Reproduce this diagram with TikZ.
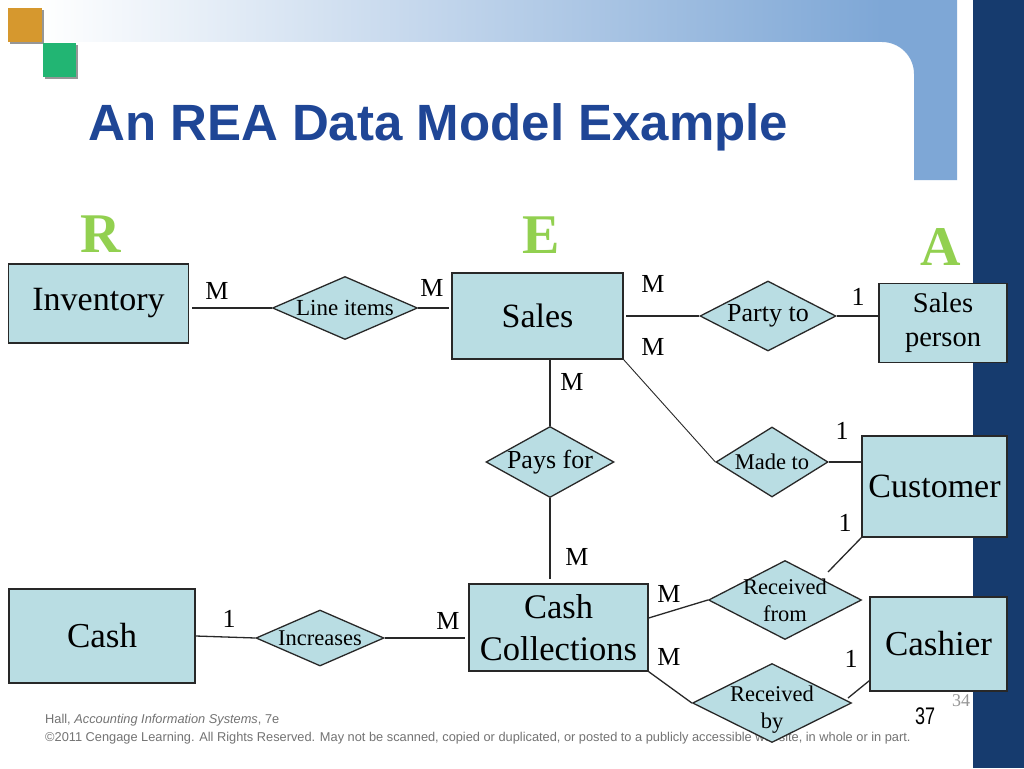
\documentclass[tikz,border=0pt]{standalone}
\usepackage{fontspec}
\setmainfont{Liberation Serif}
\newfontfamily\sansf{Liberation Sans}
\usetikzlibrary{shapes.geometric,calc}
\definecolor{boxfill}{RGB}{185,221,227}
\definecolor{edgec}{RGB}{40,40,40}
\definecolor{navy}{RGB}{22,59,110}
\definecolor{band}{RGB}{126,167,214}
\definecolor{titleblue}{RGB}{31,70,150}
\definecolor{reagreen}{RGB}{146,208,80}
\definecolor{sqorange}{RGB}{214,152,46}
\definecolor{sqgreen}{RGB}{34,181,115}
\definecolor{sqshadow}{RGB}{150,150,150}
\definecolor{footgray}{RGB}{115,115,115}
\definecolor{pagegray}{RGB}{150,150,150}
\begin{document}
\begin{tikzpicture}[x=1pt,y=-1pt,
  ent/.style={rectangle, draw=edgec, line width=1.3pt, fill=boxfill, inner sep=0pt, align=center, font=\fontsize{34}{40}\selectfont},
  rel/.style={diamond, draw=edgec, line width=1.3pt, fill=boxfill, inner sep=0pt, label={[relt]center:#1}},
  relt/.style={align=center, inner sep=0pt, font=\fontsize{22.5}{27}\selectfont},
  card/.style={inner sep=0pt, font=\fontsize{26}{30}\selectfont},
  conn/.style={draw=edgec, line width=1.3pt},
  rea/.style={inner sep=0pt, anchor=base, text=reagreen, font=\fontsize{56}{60}\selectfont\bfseries},
  foot/.style={anchor=base west, inner sep=0pt, text=footgray, font=\sansf\fontsize{12.8}{15}\selectfont}]
\useasboundingbox (0,0) rectangle (1024,768);
\fill[white] (0,0) rectangle (1024,768);
% background decoration
\shade[left color=white, right color=band] (40,0) rectangle (882,42);
\fill[band] (882,0) -- (957,0) -- (957,180) -- (914,180) -- (914,74) arc[start angle=0, end angle=-90, radius=32] -- cycle;
\fill[navy] (973,0) rectangle (1024,768);
\fill[sqshadow] (10,10) rectangle (44,44);
\fill[sqorange] (8,8) rectangle (42,42);
\fill[sqshadow] (45,45) rectangle (78,79);
\fill[sqgreen] (43,43) rectangle (76,77);
% title
\node[anchor=base west, inner sep=0pt, text=titleblue, font=\sansf\bfseries\fontsize{51}{56}\selectfont] (title) at (88,140) {An REA Data Model Example};
\node[rea] (R) at (101,252) {R};
\node[rea] (E) at (541,253) {E};
\node[rea] (A) at (941,265) {A};
% footer
\node[foot] (foot1) at (45,723) {Hall, \textit{Accounting Information Systems}, 7e};
\node[foot] (foot2) at (45,741) {©2011 Cengage Learning. All Rights Reserved. May not be scanned, copied or duplicated, or posted to a publicly accessible website, in whole or in part.};
\node[inner sep=0pt, text=pagegray, font=\fontsize{18}{20}\selectfont] (p34) at (961,701) {34};
\node[inner sep=0pt, font=\sansf\fontsize{24}{26}\selectfont] (p37) at (925,716) {\scalebox{0.75}[1]{37}};
% entities
\node[ent, minimum width=180pt, minimum height=79pt] (inv) at (98.5,303.5) {Inventory};
\node[ent, minimum width=171pt, minimum height=86pt] (sales) at (537.5,316) {Sales};
\node[ent, minimum width=128pt, minimum height=79pt, font=\fontsize{28.5}{34}\selectfont] (sp) at (943,323) {Sales\\person};
\node[ent, minimum width=145pt, minimum height=101pt] (cust) at (934.5,486.5) {Customer};
\node[ent, minimum width=186pt, minimum height=94pt, font=\fontsize{35}{40}\selectfont] (cash) at (102,636) {Cash};
\node[ent, minimum width=179pt, minimum height=87pt, font=\fontsize{34.5}{42}\selectfont] (cc) at (558.5,627.5) {Cash\\Collections};
\node[ent, minimum width=137pt, minimum height=94pt, font=\fontsize{35}{40}\selectfont] (cashier) at (938.5,644) {Cashier};
% relationships
\node[rel={\fontsize{23}{27}\selectfont Line items}, minimum width=145pt, minimum height=63pt] (li) at (345,308) {};
\node[rel={\fontsize{26}{29}\selectfont Party to}, minimum width=136pt, minimum height=70pt] (party) at (768,316) {};
\node[rel={\fontsize{26}{29}\selectfont Pays for}, minimum width=128pt, minimum height=71pt] (pays) at (550,462) {};
\node[rel={Made to}, minimum width=112pt, minimum height=70pt] (made) at (772,462) {};
\node[rel={Increases}, minimum width=128pt, minimum height=56pt] (inc) at (320,638) {};
\node[rel={Received\\from}, minimum width=153pt, minimum height=79pt] (rf) at (785,600) {};
\node[diamond, draw=edgec, line width=1.3pt, fill=boxfill, inner sep=0pt, minimum width=159pt, minimum height=79pt, label={[relt,yshift=-7pt]center:Received\\by}] (rb) at (772,703) {};
% connectors
\draw[conn, shorten >=3pt] (li.west) -- (li.west -| inv.east);
\draw[conn, shorten >=2pt] (li.east) -- (li.east -| sales.west);
\draw[conn, shorten >=2pt] (party.west) -- (party.west -| sales.east);
\draw[conn] (party.east) -- (party.east -| sp.west);
\draw[conn] (pays.north) -- (pays.north |- sales.south);
\draw[conn, line width=0.9pt] (sales.south east) -- (made.west);
\draw[conn] (made.east) -- (made.east -| cust.west);
\draw[conn, shorten >=4pt] (pays.south) -- (pays.south |- cc.north);
\draw[conn] (cash.east) -- (inc.west);
\draw[conn, shorten >=3pt] (inc.east) -- (inc.east -| cc.west);
\coordinate (ccrf) at ($(cc.east)+(0,-9.5)$);
\draw[conn] (ccrf) -- (rf.west);
\draw[conn] (cc.south east) -- (rb.west);
\coordinate (rfc) at (828,572);
\draw[conn] (rfc) -- (cust.south west);
\coordinate (rbc) at (848,698);
\coordinate (cashc) at ($(cashier.south west)+(0,-11)$);
\draw[conn] (rbc) -- (cashc);
% cardinalities
\node[card] (c1) at (217,291) {M};
\node[card] (c2) at (432,288) {M};
\node[card] (c3) at (653,284) {M};
\node[card] (c4) at (653,347) {M};
\node[card] (c5) at (858,297) {1};
\node[card] (c6) at (572,382) {M};
\node[card] (c7) at (842,431) {1};
\node[card] (c8) at (845,523) {1};
\node[card] (c9) at (577,557) {M};
\node[card] (c10) at (669,594) {M};
\node[card] (c11) at (669,657) {M};
\node[card] (c12) at (851,659) {1};
\node[card] (c13) at (229,619) {1};
\node[card] (c14) at (448,621) {M};
\end{tikzpicture}
\end{document}
